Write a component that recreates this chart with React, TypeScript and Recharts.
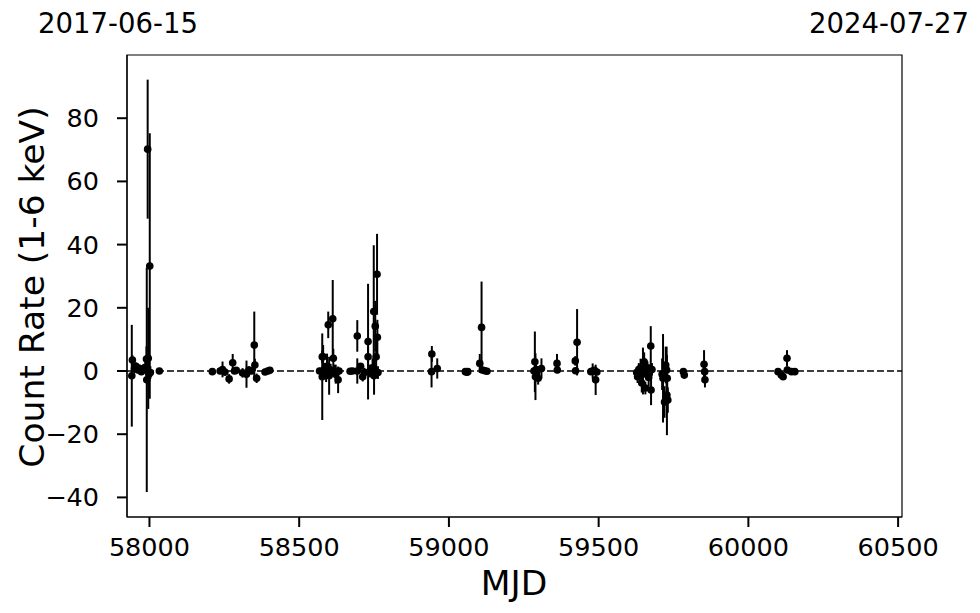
import React from "react";
import {
  ScatterChart, Scatter, XAxis, YAxis, ErrorBar, ReferenceLine, ReferenceArea,
} from "recharts";

// observation dates (MJD), count rates and 1-sigma errors
const mjd = [
  57941, 57943, 57950, 57955, 57962, 57968, 57973, 57980, 57986, 57990, 57991, 57994, 57996, 57998, 58001, 58003, 58033,
  58210, 58236, 58244, 58252, 58266, 58278, 58284, 58290, 58311, 58324, 58332, 58340, 58350, 58352, 58358, 58386, 58395, 58402,
  58568, 58577, 58577, 58580, 58583, 58590, 58593, 58597, 58600, 58605, 58612, 58614, 58618, 58622, 58630, 58633,
  58670, 58678, 58694, 58694, 58705, 58712, 58718, 58730, 58730, 58736, 58745, 58749, 58750, 58752, 58754, 58757, 58760, 58761, 58763,
  58942, 58943, 58961,
  59055, 59060, 59063,
  59103, 59109, 59112, 59120, 59127,
  59284, 59287, 59289, 59291, 59293, 59298, 59309,
  59361, 59362,
  59422, 59423, 59428,
  59474, 59480, 59486, 59490, 59494,
  59627, 59630, 59634, 59637, 59640, 59644, 59648, 59652, 59656, 59660, 59663, 59667, 59671, 59674, 59675, 59678,
  59712, 59715, 59720, 59724, 59727, 59728, 59729, 59731,
  59783, 59786,
  59852, 59854, 59855,
  60099, 60110, 60116, 60129, 60130, 60144, 60155,
];

const rate = [
  -1.5, 3.5, 0.8, 1.5, 0.3, 0.8, -0.2, 0.6, 1.2, 3.8, -2.8, 70.2, 4, -1, 33.2, -0.5, 0,
  -0.2, 0, 0.5, -0.3, -2.5, 2.6, 0, 0.2, -0.6, -1, 0.3, 0, 8.2, 1.9, -2.3, -0.3, 0, 0.2,
  0, -1.8, 4.5, 4.5, 0.5, -0.5, 1.5, 14.6, -1.5, 0.3, 16.5, 4, 0, -1, -2.8, 0,
  -0.1, 0, 11.1, 0, 1.5, -1.8, -0.5, 9.3, 4.5, 0, 1, 18.8, -1.5, 0.5, 14.2, 4.5, 30.6, 10.7, -0.5,
  -0.2, 5.4, 0.8,
  -0.2, -0.4, -0.2,
  2.4, 13.8, 0.3, 0.1, -0.1,
  0, 2.9, -1.8, 0.5, -0.5, -2.3, 0.8,
  2.4, 0.3,
  3.2, 0.1, 9.1,
  -0.2, 0, 0.2, -2.8, -0.3,
  -0.5, -1.8, 0.5, -1.3, 0.9, -3.8, 0, 2.9, -5.4, -1, 1, -2, 0, 7.9, -6, 0.5,
  -1, -2.3, -9.8, 1.9, 0.3, -7.6, -2.3, -9.2,
  -0.2, -1.3,
  2.1, -0.2, -2.8,
  -0.2, -1.3, -1.8, 4, 0.3, -0.2, -0.2,
];

const rateErr = [
  16.1, 1.5, 1.5, 1.2, 1, 1.2, 1, 1.5, 2, 4, 35.5, 22, 16, 6, 42, 2, 0.8,
  0.6, 1, 2.5, 1.2, 1.5, 2.8, 1, 1, 1.5, 4.3, 1.2, 1, 10.6, 2, 1.5, 0.8, 0.8, 0.8,
  1, 13.7, 2, 3.7, 2, 3, 4, 4.2, 6, 2, 12.3, 3, 2, 3, 4.2, 1,
  0.8, 0.8, 5, 4, 1, 1.5, 1.5, 18.3, 3, 2, 3, 21, 6, 3, 8, 6, 12.8, 5.5, 2,
  5, 2.5, 3.2,
  0.6, 0.6, 0.5,
  3, 14.5, 1, 0.8, 0.8,
  1, 9.6, 7.4, 3, 2, 2, 3.2,
  3, 1,
  1.5, 1, 10.5,
  0.8, 2.4, 1, 4.8, 1,
  1, 2, 2, 2.5, 3, 3, 7.4, 3, 2, 2, 2, 3, 2, 6.3, 4.8, 2,
  5, 14, 5, 5.8, 7.4, 12.7, 4, 4,
  0.8, 1,
  4.5, 2, 2.4,
  0.5, 0.8, 0.8, 2.6, 1, 0.5, 0.5,
];

const xTicks = [58000, 58500, 59000, 59500, 60000, 60500];
const yTicks = [-40, -20, 0, 20, 40, 60, 80];
const xDomain = [57925, 60513];
const yDomain = [-46.2, 100];
const startLabel = "2017-06-15";
const endLabel = "2024-07-27";

const data = mjd.map((m, i) => ({ mjd: m, rate: rate[i], err: rateErr[i] }));

const FONT = "'DejaVu Sans', sans-serif";
const fmt = (v: number) => (v < 0 ? `\u2212${Math.abs(v)}` : `${v}`);

const Dot = (p: any) => <circle cx={p.cx} cy={p.cy} r={3.8} fill="#000" />;

export default function App() {
  return (
    <div style={{ position: "absolute", left: 0, top: 0, width: 980, height: 613, background: "#fff", fontFamily: FONT }}>
      <ScatterChart width={980} height={613} margin={{ top: 55, right: 78, bottom: 0, left: 0 }}>
        <XAxis
          dataKey="mjd"
          type="number"
          domain={xDomain}
          ticks={xTicks}
          allowDataOverflow
          height={96}
          tickSize={10}
          tickMargin={11}
          tick={{ fontSize: 25.5, fill: "#000", fontFamily: FONT }}
          tickLine={{ stroke: "#000", strokeWidth: 2 }}
          axisLine={{ stroke: "#000", strokeWidth: 1.2 }}
        />
        <YAxis
          dataKey="rate"
          type="number"
          domain={yDomain}
          ticks={yTicks}
          allowDataOverflow
          width={127}
          tickSize={10}
          tickMargin={18}
          tickFormatter={fmt}
          tick={{ fontSize: 25.5, fill: "#000", fontFamily: FONT }}
          tickLine={{ stroke: "#000", strokeWidth: 2 }}
          axisLine={{ stroke: "#000", strokeWidth: 1.2 }}
        />
        <ReferenceArea x1={xDomain[0]} x2={xDomain[1]} y1={yDomain[0]} y2={yDomain[1]} fill="none" stroke="#000" strokeWidth={1.2} />
        <ReferenceLine y={0} stroke="#000" strokeWidth={1.5} strokeDasharray="7 3" />
        <Scatter data={data} shape={Dot} isAnimationActive={false}>
          <ErrorBar dataKey="err" direction="y" width={0} stroke="#000" strokeWidth={2} isAnimationActive={false} />
        </Scatter>
      </ScatterChart>
      <div style={{ position: "absolute", left: 118, top: 23, transform: "translate(-50%, -50%)", fontSize: 27.5, whiteSpace: "nowrap" }}>
        {startLabel}
      </div>
      <div style={{ position: "absolute", left: 889, top: 23, transform: "translate(-50%, -50%)", fontSize: 27.5, whiteSpace: "nowrap" }}>
        {endLabel}
      </div>
      <div style={{ position: "absolute", left: 514, top: 583, transform: "translate(-50%, -50%)", fontSize: 34.5, whiteSpace: "nowrap" }}>
        MJD
      </div>
      <div style={{ position: "absolute", left: 32, top: 287, transform: "translate(-50%, -50%) rotate(-90deg)", fontSize: 34.5, whiteSpace: "nowrap" }}>
        Count Rate (1-6 keV)
      </div>
    </div>
  );
}
